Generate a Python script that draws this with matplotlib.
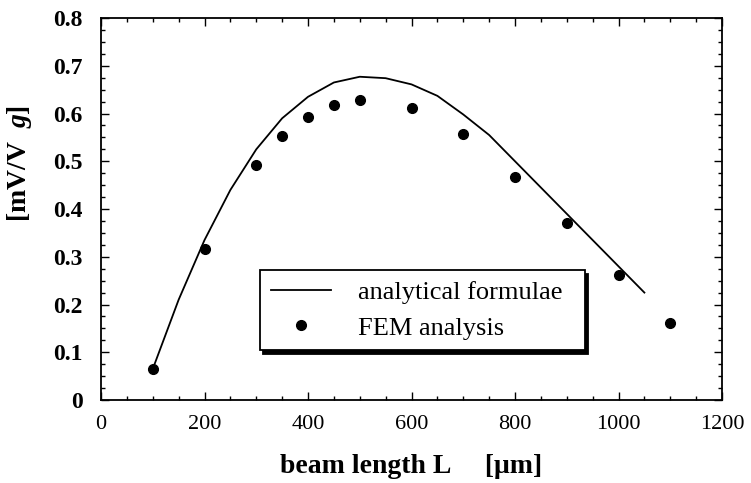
# -*- coding: utf-8 -*-

import matplotlib.pyplot as plt
from matplotlib.ticker import MultipleLocator
import matplotlib as mpl

mpl.rc('font', family='Liberation Serif')
mpl.rcParams['mathtext.fontset'] = 'custom'
mpl.rcParams['mathtext.it'] = 'Liberation Serif:italic:bold'
mpl.rcParams['mathtext.rm'] = 'Liberation Serif:bold'

# analytical sensitivity vs beam length
L_formula = [100, 150, 200, 250, 300, 350, 400, 450, 500, 550, 600,
             650, 700, 750, 800, 850, 900, 950, 1000, 1050]
s_formula = [0.065, 0.21, 0.335, 0.44, 0.525, 0.59, 0.635, 0.665, 0.677, 0.674, 0.661,
             0.637, 0.598, 0.555, 0.500, 0.445, 0.39, 0.335, 0.28, 0.225]

# FEM results
L_fem = [100, 200, 300, 350, 400, 450, 500, 600, 700, 800, 900, 1000, 1100]
s_fem = [0.065, 0.316, 0.493, 0.552, 0.593, 0.617, 0.628, 0.612, 0.558, 0.467, 0.371, 0.262, 0.162]

fig = plt.figure(figsize=(7.51, 4.83), dpi=100)
fig.subplots_adjust(left=0.1345, right=0.9614, bottom=0.1718, top=0.9627)
ax = fig.gca()

ax.plot(L_formula, s_formula, 'k-', linewidth=1.3, label='analytical formulae')
ax.plot(L_fem, s_fem, 'ko', markersize=7, linestyle='none', label='FEM analysis')

ax.set_xlim(0, 1200)
ax.set_ylim(0, 0.8)
ax.xaxis.set_major_locator(MultipleLocator(200))
ax.xaxis.set_minor_locator(MultipleLocator(50))
ax.yaxis.set_minor_locator(MultipleLocator(0.025))
ax.set_yticks([0, 0.1, 0.2, 0.3, 0.4, 0.5, 0.6, 0.7, 0.8])
ax.set_yticklabels(['0', '0.1', '0.2', '0.3', '0.4', '0.5', '0.6', '0.7', '0.8'])

ax.tick_params(which='both', direction='in', top=True, right=True, width=1.0)
ax.tick_params(which='major', length=6)
ax.tick_params(which='minor', length=3)
ax.tick_params(axis='x', labelsize=16, pad=11)
ax.tick_params(axis='y', labelsize=17, pad=13)
for lab in ax.get_yticklabels():
    lab.set_fontweight('bold')
for sp in ax.spines.values():
    sp.set_linewidth(1.3)

ax.set_xlabel(u'beam length L     [\u03bcm]', fontsize=20, fontweight='bold')
ax.set_ylabel(r'[mV/V  $\mathit{g}$]', fontsize=20, fontweight='bold')
ax.xaxis.set_label_coords(0.5, -0.14)
ax.yaxis.set_label_coords(-0.108, 0.62)

leg = ax.legend(loc='upper left', bbox_to_anchor=(0.256, 0.131, 0.523, 0.209),
                mode='expand', borderaxespad=0, fontsize=19, handlelength=2.3,
                handletextpad=1.0, borderpad=0.4, labelspacing=0.45,
                fancybox=False, numpoints=1,
                shadow={'color': 'black', 'alpha': 1, 'ox': 2.5, 'oy': -2.5})
leg.get_frame().set_edgecolor('black')
leg.get_frame().set_linewidth(1.3)
leg.get_frame().set_alpha(1)

plt.savefig('out.png', dpi=100)
